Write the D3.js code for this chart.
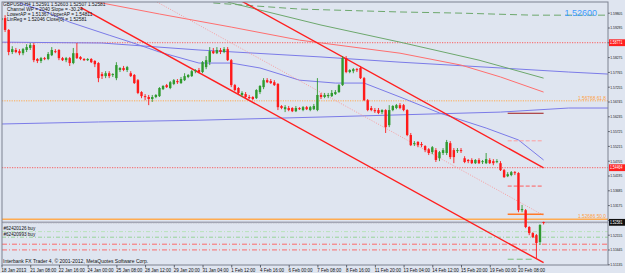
<!DOCTYPE html>
<html lang="en">
<head>
  <meta charset="UTF-8">
  <title>GBPUSD,H4</title>
  <style>
    body { margin: 0; background: #dfe5f0; }
    svg { display: block; font-family: "Liberation Sans Narrow", "Liberation Sans", Arial, sans-serif; }
    .axis path { display: none; }
    .axis line { stroke: #5a5f6a; }
    .axis text { fill: #111; font-size: 4.5px; }
  </style>
</head>
<body>
  <div id="chart"></div>

  <script src="https://cdn.jsdelivr.net/npm/d3@7"></script>
  <script>

    // ---- price bars (H4), bar 0 = 18 Jan 04:00 ----
    const open = [
      1.5955,1.5962,1.5921,1.5845,1.5852,1.5848,1.5841,1.5852,
      1.5859,1.5869,1.5821,1.5814,1.5824,1.5821,1.5834,1.5848,
      1.5852,1.5824,1.5817,1.5824,1.5807,1.5841,1.5828,1.5821,
      1.5817,1.5821,1.5814,1.5807,1.5769,1.5762,1.5772,1.5766,
      1.5755,1.5783,1.5790,1.5783,1.5772,1.5766,1.5748,1.5707,
      1.5693,1.5690,1.5683,1.5690,1.5693,1.5717,1.5731,1.5721,
      1.5735,1.5745,1.5738,1.5748,1.5759,1.5762,1.5779,1.5783,
      1.5776,1.5793,1.5810,1.5848,1.5841,1.5852,1.5845,1.5855,
      1.5817,1.5731,1.5721,1.5697,1.5700,1.5690,1.5690,1.5686,
      1.5707,1.5724,1.5748,1.5745,1.5741,1.5735,1.5659,1.5648,
      1.5652,1.5652,1.5641,1.5652,1.5645,1.5655,1.5645,1.5648,
      1.5645,1.5697,1.5690,1.5693,1.5693,1.5700,1.5707,1.5731,
      1.5824,1.5776,1.5779,1.5786,1.5790,1.5755,1.5679,1.5652,
      1.5645,1.5645,1.5638,1.5645,1.5593,1.5645,1.5652,1.5662,
      1.5662,1.5645,1.5559,1.5528,1.5535,1.5528,1.5521,1.5510,
      1.5500,1.5507,1.5479,1.5497,1.5497,1.5531,1.5507,1.5504,
      1.5507,1.5479,1.5473,1.5473,1.5462,1.5473,1.5466,1.5462,
      1.5473,1.5469,1.5466,1.5462,1.5438,1.5417,1.5421,1.5431,
      1.5428,1.5300,1.5300,1.5242,1.5221,1.5214,1.5190,1.52591
    ];
    const high = [
      1.5972,1.5972,1.5924,1.5865,1.5859,1.5855,1.5859,1.5872,
      1.5876,1.5876,1.5824,1.5828,1.5828,1.5845,1.5862,1.5855,
      1.5855,1.5828,1.5828,1.5828,1.5859,1.5876,1.5831,1.5824,
      1.5824,1.5824,1.5817,1.5810,1.5776,1.5779,1.5779,1.5772,
      1.5810,1.5793,1.5797,1.5797,1.5779,1.5769,1.5752,1.5710,
      1.5700,1.5697,1.5697,1.5700,1.5724,1.5731,1.5735,1.5745,
      1.5752,1.5752,1.5759,1.5772,1.5769,1.5783,1.5786,1.5790,
      1.5814,1.5831,1.5862,1.5859,1.5862,1.5859,1.5862,1.5862,
      1.5821,1.5735,1.5724,1.5710,1.5707,1.5697,1.5693,1.5717,
      1.5731,1.5755,1.5755,1.5752,1.5748,1.5738,1.5662,1.5662,
      1.5659,1.5655,1.5659,1.5655,1.5659,1.5659,1.5659,1.5666,
      1.5755,1.5704,1.5704,1.5704,1.5714,1.5714,1.5735,1.5831,
      1.5831,1.5786,1.5790,1.5790,1.5797,1.5759,1.5683,1.5659,
      1.5652,1.5652,1.5648,1.5648,1.5662,1.5662,1.5666,1.5669,
      1.5666,1.5648,1.5566,1.5538,1.5538,1.5535,1.5524,1.5514,
      1.5521,1.5514,1.5504,1.5514,1.5542,1.5538,1.5514,1.5514,
      1.5514,1.5486,1.5476,1.5479,1.5476,1.5479,1.5473,1.5497,
      1.5479,1.5476,1.5476,1.5469,1.5442,1.5431,1.5435,1.5435,
      1.5431,1.5318,1.5304,1.5245,1.5224,1.5218,1.5252,1.52603
    ];
    const low = [
      1.5948,1.5914,1.5834,1.5838,1.5841,1.5834,1.5834,1.5845,
      1.5852,1.5810,1.5807,1.5807,1.5817,1.5817,1.5831,1.5841,
      1.5817,1.5814,1.5810,1.5797,1.5803,1.5821,1.5817,1.5814,
      1.5814,1.5807,1.5793,1.5741,1.5752,1.5755,1.5755,1.5759,
      1.5748,1.5776,1.5779,1.5776,1.5759,1.5735,1.5700,1.5686,
      1.5679,1.5662,1.5673,1.5686,1.5690,1.5714,1.5721,1.5717,
      1.5731,1.5735,1.5735,1.5745,1.5755,1.5759,1.5772,1.5772,
      1.5772,1.5786,1.5800,1.5838,1.5838,1.5838,1.5841,1.5814,
      1.5724,1.5710,1.5700,1.5690,1.5686,1.5683,1.5679,1.5683,
      1.5700,1.5717,1.5738,1.5735,1.5728,1.5645,1.5648,1.5638,
      1.5641,1.5638,1.5638,1.5645,1.5641,1.5645,1.5641,1.5645,
      1.5641,1.5683,1.5686,1.5686,1.5690,1.5697,1.5704,1.5728,
      1.5772,1.5772,1.5772,1.5776,1.5752,1.5676,1.5641,1.5641,
      1.5635,1.5631,1.5631,1.5566,1.5586,1.5641,1.5648,1.5648,
      1.5641,1.5555,1.5521,1.5521,1.5517,1.5517,1.5500,1.5490,
      1.5493,1.5466,1.5469,1.5490,1.5490,1.5476,1.5462,1.5497,
      1.5497,1.5462,1.5462,1.5459,1.5459,1.5459,1.5459,1.5459,
      1.5459,1.5455,1.5462,1.5435,1.5411,1.5414,1.5417,1.5421,
      1.5293,1.5293,1.5238,1.5214,1.5204,1.5135,1.5180,1.52507
    ];
    const close = [
      1.5962,1.5921,1.5845,1.5855,1.5845,1.5841,1.5855,1.5862,
      1.5869,1.5817,1.5814,1.5824,1.5821,1.5838,1.5852,1.5845,
      1.5824,1.5817,1.5824,1.5807,1.5841,1.5824,1.5821,1.5817,
      1.5821,1.5810,1.5803,1.5755,1.5762,1.5772,1.5762,1.5769,
      1.5800,1.5790,1.5783,1.5793,1.5762,1.5738,1.5704,1.5693,
      1.5690,1.5683,1.5690,1.5697,1.5721,1.5728,1.5724,1.5741,
      1.5748,1.5741,1.5752,1.5762,1.5766,1.5779,1.5783,1.5776,
      1.5810,1.5817,1.5848,1.5841,1.5852,1.5845,1.5855,1.5817,
      1.5731,1.5714,1.5704,1.5704,1.5690,1.5686,1.5683,1.5714,
      1.5728,1.5748,1.5741,1.5738,1.5731,1.5655,1.5652,1.5655,
      1.5645,1.5641,1.5652,1.5648,1.5655,1.5648,1.5655,1.5659,
      1.5697,1.5690,1.5697,1.5697,1.5704,1.5707,1.5731,1.5824,
      1.5776,1.5783,1.5786,1.5783,1.5755,1.5679,1.5645,1.5645,
      1.5641,1.5635,1.5645,1.5586,1.5645,1.5659,1.5662,1.5652,
      1.5645,1.5559,1.5524,1.5531,1.5524,1.5524,1.5507,1.5497,
      1.5517,1.5473,1.5500,1.5507,1.5535,1.5483,1.5483,1.5507,
      1.5504,1.5466,1.5469,1.5462,1.5473,1.5462,1.5469,1.5476,
      1.5462,1.5462,1.5469,1.5438,1.5414,1.5424,1.5431,1.5428,
      1.5300,1.5304,1.5242,1.5221,1.5207,1.5187,1.5249,1.52581
    ];

    // ---- indicator lines: bar index + price ----
    const maFastBars = [5, 11, 19, 30, 36, 44, 55, 64, 72, 83, 93, 101, 111, 122, 135, 144, 151];
    const maFastVals = [1.6014, 1.5990, 1.5948, 1.5903, 1.5879, 1.5845, 1.5807, 1.5807, 1.5790, 1.5748, 1.5738, 1.5738, 1.5690, 1.5635, 1.5583, 1.5542, 1.5473];
    const maSlowBars = [0, 28, 55, 89, 111, 139, 158, 169];
    const maSlowVals = [1.5879, 1.5876, 1.5852, 1.5828, 1.5810, 1.5790, 1.5776, 1.5769];
    const maBaseBars = [0, 27, 55, 89, 139, 158, 169];
    const maBaseVals = [1.5597, 1.5604, 1.5610, 1.5621, 1.5638, 1.5652, 1.5652];
    const pinkMaBars = [25, 44, 64, 83, 111, 128, 139, 151];
    const pinkMaVals = [1.6021, 1.5976, 1.5931, 1.5886, 1.5841, 1.5800, 1.5759, 1.5707];
    const greenMaBars = [63, 89, 111, 133, 151];
    const greenMaVals = [1.6017, 1.5938, 1.5879, 1.5817, 1.5755];
    const greenDashBars = [59, 83, 111, 128, 148, 169];
    const greenDashVals = [1.6014, 1.5993, 1.5983, 1.5979, 1.5972, 1.5972];

    // regression channel (start bar, end bar)
    const chanBars = [22, 151];
    const chanUpper = [1.6327, 1.5446];
    const chanMid = [1.6163, 1.5282];
    const chanLower = [1.5999, 1.5119];

    // horizontal levels
    const redLevels = [1.58771, 1.54464];
    const fibLevels = [1.56768, 1.52686];
    const fibNames = ["61.8", "50.0"];
    const bidPrice = 1.52581;
    const orderLevels = [1.52262, 1.52069];
    const orderTickets = ["#62420126 buy", "#62420993 buy"];
    const stopLevels = [1.51828, 1.51631];

    // short markers over the last bars
    const markBars = [141, 151];
    const markPink = 1.5539, markDark = 1.5634, markRed = 1.5383, markOrange = 1.5286;
    const markGreenBars = [141, 148];
    const markGreen = 1.5131;

    // axes
    const priceTicks = [1.59805, 1.59295, 1.58785, 1.58275, 1.57765, 1.57255, 1.56745, 1.56235, 1.55725,
                        1.55215, 1.54705, 1.54195, 1.53685, 1.53175, 1.52665, 1.52155, 1.51645, 1.51135];
    const timeBars = [0, 8, 16, 24, 32, 40, 48, 56, 64, 72, 80, 88, 96, 104, 112, 120, 128, 136, 144];
    const timeLabels = ["18 Jan 2013", "21 Jan 08:00", "22 Jan 16:00", "24 Jan 00:00", "25 Jan 08:00",
                        "28 Jan 12:00", "29 Jan 20:00", "31 Jan 04:00", "1 Feb 12:00", "4 Feb 16:00",
                        "6 Feb 00:00", "7 Feb 08:00", "8 Feb 16:00", "11 Feb 20:00", "13 Feb 04:00",
                        "14 Feb 12:00", "15 Feb 20:00", "19 Feb 00:00", "20 Feb 08:00"];

    const headerLines = [
      "GBPUSD,H4  1.52591 1.52603 1.52507 1.52581",
      "Channel WP = 2040  Slope = -30.24",
      "LowerAP = 1.51367  UpperAP = 1.54811",
      "LinReg = 1.52046  Close[0] = 1.52581"
    ];
    const bigQuote = "1.52600";
    const copyright = "Interbank FX Trader 4, \u00a9 2001-2012, MetaQuotes Software Corp.";

    // ---- layout ----
    const W = 625, H = 273;
    const plot = { left: 2, top: 2, right: 608, bottom: 265 };
    const priceFmt = d3.format(".5f");

    const svg = d3.select("#chart").append("svg")
      .attr("width", W)
      .attr("height", H);

    svg.append("rect").attr("width", W).attr("height", H).attr("fill", "#dfe5f0");

    const x = d3.scaleLinear().domain([0, 169]).range([1.5, 1.5 + 169 * 3.59]);
    const y = d3.scaleLinear().domain([1.51135, 1.59805]).range([264.3, 12.7]);

    svg.append("clipPath").attr("id", "clip")
      .append("rect")
      .attr("x", plot.left).attr("y", plot.top)
      .attr("width", plot.right - plot.left).attr("height", plot.bottom - plot.top);

    const g = svg.append("g").attr("clip-path", "url(#clip)");

    const line = d3.line().x(d => x(d[0])).y(d => y(d[1]));
    const zip = (bars, vals) => bars.map((b, i) => [b, vals[i]]);

    function hLine(price, color, width, dash) {
      g.append("line")
        .attr("x1", plot.left).attr("x2", plot.right)
        .attr("y1", y(price)).attr("y2", y(price))
        .attr("stroke", color).attr("stroke-width", width)
        .attr("stroke-dasharray", dash || null);
    }

    // horizontal levels
    redLevels.forEach(p => hLine(p, "#ff4d4d", 0.9, "1.2,1.3"));
    hLine(fibLevels[0], "#ffa94d", 1, "1.2,1.2");
    hLine(fibLevels[1], "#ffab50", 1.4);
    hLine(bidPrice - 0.0003, "#ffffff", 0.8, "1,1.5");
    hLine(bidPrice, "#a3a6b4", 1.6);
    hLine(orderLevels[0], "#b5e3b5", 0.9, "4,2,1,2");
    hLine(orderLevels[1], "#8fd08f", 0.9, "4,2,1,2");
    stopLevels.forEach(p => hLine(p, "#ff5c5c", 0.9, "5,2,1,2"));

    // moving averages
    const paths = [
      { pts: zip(maSlowBars, maSlowVals), color: "#7b7be8", w: 1 },
      { pts: zip(maBaseBars, maBaseVals), color: "#7b7be8", w: 1 },
      { pts: zip(maFastBars, maFastVals), color: "#7b7be8", w: 1 },
      { pts: zip(pinkMaBars, pinkMaVals), color: "#ff6f6f", w: 1 },
      { pts: zip(greenMaBars, greenMaVals), color: "#6da86d", w: 1 },
      { pts: zip(greenDashBars, greenDashVals), color: "#6da86d", w: 1, dash: "7,4" }
    ];
    paths.forEach(p => {
      g.append("path")
        .datum(p.pts)
        .attr("d", line)
        .attr("fill", "none")
        .attr("stroke", p.color)
        .attr("stroke-width", p.w)
        .attr("stroke-dasharray", p.dash || null);
    });

    // regression channel
    g.append("path").datum(zip(chanBars, chanUpper)).attr("d", line)
      .attr("fill", "none").attr("stroke", "#ff1f1f").attr("stroke-width", 1.4);
    g.append("path").datum(zip(chanBars, chanLower)).attr("d", line)
      .attr("fill", "none").attr("stroke", "#ff1f1f").attr("stroke-width", 1.4);
    g.append("path").datum(zip(chanBars, chanMid)).attr("d", line)
      .attr("fill", "none").attr("stroke", "#ff8a8a").attr("stroke-width", 0.8)
      .attr("stroke-dasharray", "1,1.5");

    // short marks on the last bars
    const mark = (bars, p, color, w, dash) => g.append("line")
      .attr("x1", x(bars[0])).attr("x2", x(bars[1]))
      .attr("y1", y(p)).attr("y2", y(p))
      .attr("stroke", color).attr("stroke-width", w)
      .attr("stroke-dasharray", dash || null);
    mark(markBars, markPink, "#ff9c9c", 1, "4,2");
    mark(markBars, markDark, "#a01818", 1);
    mark(markBars, markRed, "#ff5c5c", 1, "4,2");
    mark(markBars, markOrange, "#ff7a2a", 1.6);
    mark(markGreenBars, markGreen, "#7cbf7c", 1, "6,3");

    // candles
    const idx = d3.range(open.length);
    g.selectAll(".wick").data(idx).enter().append("line")
      .attr("class", "wick")
      .attr("x1", i => x(i)).attr("x2", i => x(i))
      .attr("y1", i => y(high[i])).attr("y2", i => y(low[i]))
      .attr("stroke", i => close[i] >= open[i] ? "#2f9a2f" : "#ff1a1a")
      .attr("stroke-width", 0.9);
    g.selectAll(".body").data(idx).enter().append("rect")
      .attr("class", "body")
      .attr("x", i => x(i) - 1.2)
      .attr("width", 2.4)
      .attr("y", i => y(Math.max(open[i], close[i])))
      .attr("height", i => Math.max(1, Math.abs(y(open[i]) - y(close[i]))))
      .attr("fill", i => close[i] >= open[i] ? "#2f9a2f" : "#ff1a1a");

    // in-chart labels
    fibLevels.forEach((p, i) => {
      g.append("text")
        .attr("x", plot.right - 2).attr("y", y(p) - 1.2)
        .attr("text-anchor", "end")
        .attr("fill", "#ffa040")
        .style("font-size", "4.8px")
        .text(priceFmt(p) + " " + fibNames[i]);
    });
    orderLevels.forEach((p, i) => {
      g.append("text")
        .attr("x", 3.5).attr("y", y(p) - 1.2)
        .attr("fill", "#111")
        .style("font-size", "4.6px")
        .text(orderTickets[i]);
    });
    g.append("text")
      .attr("x", 597).attr("y", 16)
      .attr("text-anchor", "end")
      .attr("fill", "#3d9bff")
      .style("font-family", "'Liberation Sans', Arial, sans-serif")
      .style("font-size", "9px")
      .text(bigQuote);

    headerLines.forEach((t, i) => {
      svg.append("text")
        .attr("x", i === 0 ? 3 : 7).attr("y", 6 + i * 5)
        .attr("fill", "#111")
        .style("font-size", "4.8px")
        .text(t);
    });
    svg.append("text")
      .attr("x", 3).attr("y", 262.5)
      .attr("fill", "#111")
      .style("font-size", "5px")
      .text(copyright);

    // frame
    svg.append("rect")
      .attr("x", plot.left).attr("y", plot.top)
      .attr("width", plot.right - plot.left).attr("height", plot.bottom - plot.top)
      .attr("fill", "none").attr("stroke", "#7d8290").attr("stroke-width", 1);

    // price axis (labels under a coloured tag are hidden, as the terminal does)
    const tagPrices = redLevels.concat([bidPrice]);
    const yAxis = svg.append("g").attr("class", "axis")
      .attr("transform", `translate(${plot.right},0)`)
      .call(d3.axisRight(y).tickValues(priceTicks).tickSize(1.8).tickPadding(0.5).tickFormat(priceFmt));
    yAxis.selectAll(".tick text")
      .attr("textLength", 12)
      .attr("lengthAdjust", "spacingAndGlyphs")
      .style("font-size", "4.3px")
      .style("display", d => tagPrices.some(p => Math.abs(y(p) - y(d)) < 6) ? "none" : null);

    // time axis
    svg.append("g").attr("class", "axis")
      .attr("transform", `translate(0,${plot.bottom})`)
      .call(d3.axisBottom(x).tickValues(timeBars).tickSize(2.5).tickPadding(1)
        .tickFormat((d, i) => timeLabels[i]))
      .selectAll("text").attr("text-anchor", "start").attr("dx", "-0.6");

    // coloured price tags on the axis
    function tag(p, bg, fg) {
      const t = svg.append("g").attr("transform", `translate(${plot.right},${y(p)})`);
      t.append("rect").attr("x", 1).attr("y", -3.4).attr("width", 16).attr("height", 6.8).attr("fill", bg);
      t.append("text").attr("x", 2).attr("y", 1.6).attr("fill", fg)
        .attr("textLength", 12.4).attr("lengthAdjust", "spacingAndGlyphs")
        .style("font-size", "4.5px").text(priceFmt(p));
    }
    redLevels.forEach(p => tag(p, "#ff2020", "#ffffff"));
    tag(bidPrice, "#101010", "#ffffff");

  </script>
</body>
</html>
